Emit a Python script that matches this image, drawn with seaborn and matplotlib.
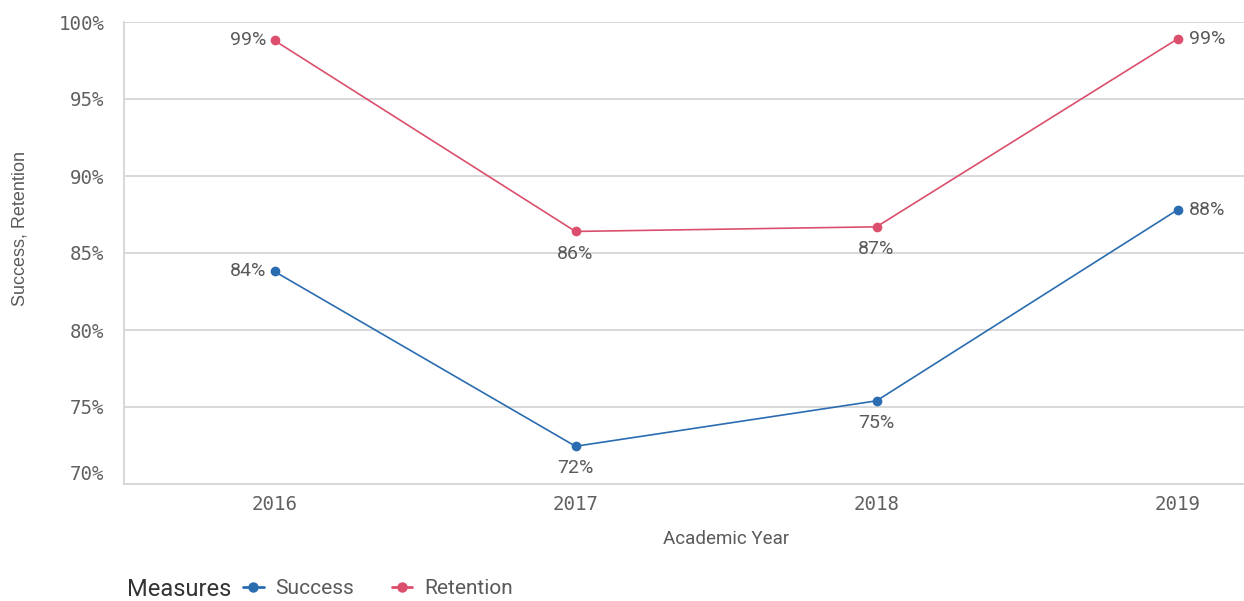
import matplotlib
matplotlib.use("Agg")
import matplotlib.pyplot as plt
from matplotlib.lines import Line2D
import seaborn as sns
import pandas as pd

# Academic years and the two measures (percent)
years = ["2016", "2017", "2018", "2019"]
success = [83.8, 72.45, 75.4, 87.8]
retention = [98.8, 86.4, 86.7, 98.9]
y_ticks = [70, 75, 80, 85, 90, 95, 100]

measures = ["Success", "Retention"]
colors = {"Success": "#2a6cb0", "Retention": "#db4f6d"}

df = pd.DataFrame({
    "Academic Year": years * 2,
    "Value": success + retention,
    "Measure": ["Success"] * len(years) + ["Retention"] * len(years),
})

sns.set_theme(style="white")
plt.rcParams["font.family"] = ["Roboto", "DejaVu Sans"]

W, H = 1244, 601
fig = plt.figure(figsize=(W / 100, H / 100), dpi=100)
ax = fig.add_axes([124 / W, 1 - 484 / H, (1328 - 124) / W, (484 - 22) / H])

sns.lineplot(data=df, x="Academic Year", y="Value", hue="Measure",
             hue_order=measures, palette=colors, marker="o", markersize=7,
             markeredgewidth=0, linewidth=1.2, sort=False, legend=False,
             ax=ax, clip_on=False)

ax.set_xlim(-0.5, 3.5)
ax.set_ylim(70, 100)

grid_c = "#d6d6d6"
ax.set_yticks(y_ticks, [f"{t}%" for t in y_ticks])
ax.grid(axis="y", color=grid_c, linewidth=1.3)
ax.grid(axis="x", visible=False)
ax.set_axisbelow(True)
for s in ["top", "right"]:
    ax.spines[s].set_visible(False)
for s in ["left", "bottom"]:
    ax.spines[s].set_color(grid_c)
    ax.spines[s].set_linewidth(1.3)

mono = "DejaVu Sans Mono"
tick_c = "#616161"
ax.tick_params(axis="y", length=10, width=1.3, color=grid_c, pad=4,
               labelsize=13.8, labelcolor=tick_c)
ax.tick_params(axis="x", length=0, pad=8, labelsize=13.8, labelcolor=tick_c)
for lab in ax.get_yticklabels() + ax.get_xticklabels():
    lab.set_fontfamily(mono)
ax.yaxis.get_major_ticks()[0].label1.set_verticalalignment("bottom")

ax.set_xlabel("")
ax.set_ylabel("")

# Value labels
lab_c = "#5a5a5a"
for name, vals in (("Success", success), ("Retention", retention)):
    for i, v in enumerate(vals):
        if i == 0:
            kw = dict(xytext=(-6, 0), ha="right", va="center")
        elif i == len(vals) - 1:
            kw = dict(xytext=(8, 0), ha="left", va="center")
        else:
            kw = dict(xytext=(0, -16), ha="center", va="center")
        ax.annotate(f"{v:.0f}%", (i, v), textcoords="offset points",
                    fontsize=14, color=lab_c, **kw)

# Axis titles
fig.text(20 / W, 1 - 228 / H, "Success, Retention", rotation=90,
         ha="center", va="center", fontsize=13, color="#5a5a5a",
         family="Liberation Sans")
fig.text(726 / W, 1 - 539 / H, "Academic Year", ha="center", va="center",
         fontsize=13.5, color="#5a5a5a")

# Legend
fig.text(127 / W, 1 - 589 / H, "Measures", ha="left", va="center",
         fontsize=17, color="#333333")
handles = [Line2D([0], [0], color=colors[m], marker="o", markersize=7.5,
                  markeredgewidth=0, linewidth=2) for m in measures]
fig.legend(handles, measures, loc="center left",
           bbox_to_anchor=(243 / W, 1 - 589 / H), ncol=2, frameon=False,
           fontsize=15, labelcolor="#5a5a5a", handlelength=1.0,
           handletextpad=0.55, columnspacing=1.8, borderpad=0,
           borderaxespad=0)

fig.savefig("out.png", dpi=100)
